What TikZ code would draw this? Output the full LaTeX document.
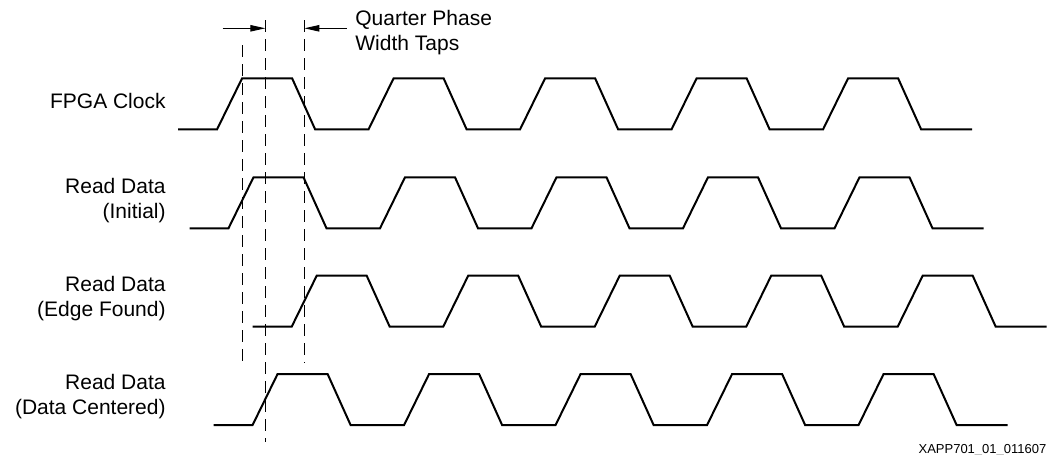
\documentclass[tikz,border=0pt]{standalone}
\usepackage{fontspec}
\setmainfont{Liberation Sans}
\usetikzlibrary{arrows.meta}

% one signal: #1 = first rising edge, #2 = low level
\newcommand{\wavetrace}[2]{%
    \draw[wave] ({#1-39},#2)
        \foreach \k in {0,...,4}{
            -- ({#1+151.5*\k},#2)
            -- ({#1+151.5*\k+25},{#2-51})
            -- ({#1+151.5*\k+75},{#2-51})
            -- ({#1+151.5*\k+98},#2)
        } -- ++(51,0);
}

\begin{document}
\begin{tikzpicture}[
        x=0.5pt,
        y=-0.5pt,
        wave/.style={line width=1pt, line join=miter},
        tap/.style={line width=0.55pt, dash pattern=on 6pt off 3.5pt},
        arrow/.style={-{Triangle[length=7.5pt, width=3.2pt]}, line width=0.5pt},
        sig/.style={
            anchor=east,
            align=right,
            inner sep=0pt,
            font=\fontsize{10.5}{12.5}\selectfont
        }
    ]
    \useasboundingbox (0,0) rectangle (1055,455);

    % Signal names
    \node[sig] (clk)  at (166,101.3) {FPGA Clock};
    \node[sig] (init) at (166,200.3) {Read Data\\(Initial)};
    \node[sig] (edge) at (166,298.7) {Read Data\\(Edge Found)};
    \node[sig] (cent) at (166,397.0) {Read Data\\(Data Centered)};

    % Waveforms
    \wavetrace{217.1}{129.3}
    \wavetrace{228.5}{228.3}
    \wavetrace{291.7}{326.7}
    \wavetrace{252.6}{425.0}

    % Tap lines
    \coordinate (tapA) at (242.7,45);
    \coordinate (tapAend) at (242.7,364);
    \coordinate (tapB) at (265.4,20);
    \coordinate (tapBend) at (265.4,442);
    \coordinate (tapC) at (304.3,20);
    \coordinate (tapCend) at (304.3,363);
    \draw[tap] (tapA) -- (tapAend);
    \draw[tap] (tapB) -- (tapBend);
    \draw[tap] (tapC) -- (tapCend);

    % Quarter phase arrows
    \coordinate (arrL) at (222.7,28.3);
    \coordinate (arrR) at (346.7,28.3);
    \draw[arrow] (arrL) -- (arrL -| tapB);
    \draw[arrow] (arrR) -- (arrR -| tapC);

    \node[sig, anchor=north west, align=left] (qpw) at (355,9.7) {Quarter Phase\\Width Taps};

    % Figure id
    \node[anchor=base east, inner sep=0pt, font=\fontsize{6.5}{7.5}\selectfont] (figid) at (1046.7,453) {XAPP701\_01\_011607};
\end{tikzpicture}
\end{document}
